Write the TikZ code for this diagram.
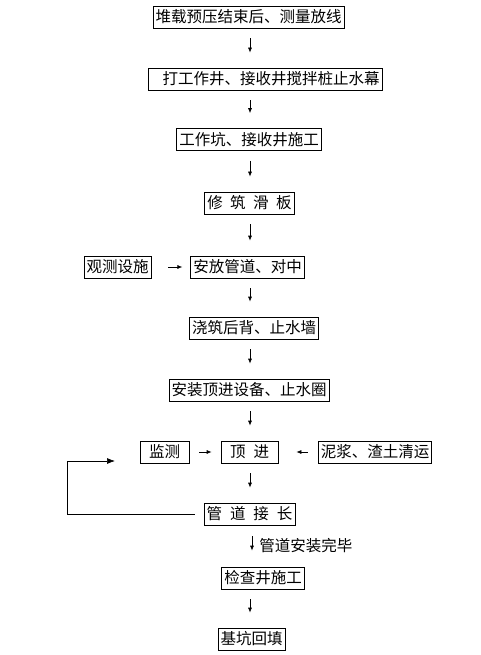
\documentclass[tikz,border=0pt]{standalone}
\usepackage{fontspec}
\setmainfont{Noto Sans CJK SC}
\usetikzlibrary{arrows.meta}
\begin{document}
\begin{tikzpicture}[x=1pt,y=-1pt,
		box/.style={draw,line width=0.7pt,inner xsep=2.5pt,inner ysep=0pt,minimum height=22pt,font=\fontsize{15.5}{18}\selectfont},
		flow/.style={-{Latex[length=5pt,width=4pt]},line width=0.7pt},
		down/.style={flow,shorten <=10pt,shorten >=15pt},
		loopflow/.style={-{Latex[length=8pt,width=6pt]},line width=0.7pt}]
		\useasboundingbox (0,0) rectangle (481,655);
		\coordinate (axis) at (250,0);
		\coordinate (axisb) at (252,0);
		\coordinate (loopin) at (115,461);
		% main chain
		\node[box] (start) at (248.5,17) {堆载预压结束后、测量放线};
		\node[box] (mixpile) at (265,79) {\hspace{12pt}打工作井、接收井搅拌桩止水幕};
		\node[box] (pit) at (249,139.5) {工作坑、接收井施工};
		\node[box] (slab) at (249.5,203) {修\hspace{7.5pt}筑\hspace{7.5pt}滑\hspace{7.5pt}板};
		\node[box] (survey) at (117.5,267) {观测设施};
		\node[box] (pipe) at (247.5,267) {安放管道、对中};
		\node[box] (backwall) at (254,328) {浇筑后背、止水墙};
		\node[box] (jackset) at (249,390) {安装顶进设备、止水圈};
		\node[box,minimum width=49pt] (monitor) at (164.5,452) {监测};
		\node[box,minimum width=57pt] (jack) at (249.5,452) {顶\hspace{8pt}进};
		\node[box] (mud) at (375,452) {泥浆、渣土清运};
		\node[box] (extend) at (249.5,514) {管\hspace{8pt}道\hspace{8pt}接\hspace{8pt}长};
		\node[box] (manhole) at (263,578) {检查井施工};
		\node[box] (backfill) at (251.5,639) {基坑回填};
		% arrows
		\draw[down] (start.south -| axis) -- (mixpile.north -| axis);
		\draw[down] (mixpile.south -| axis) -- (pit.north -| axis);
		\draw[down] (pit.south -| axis) -- (slab.north -| axis);
		\draw[down] (slab.south -| axis) -- (pipe.north -| axis);
		\draw[down] (pipe.south -| axis) -- (backwall.north -| axis);
		\draw[down] (backwall.south -| axis) -- (jackset.north -| axis);
		\draw[down] (jackset.south -| axis) -- (jack.north -| axis);
		\draw[down] (jack.south -| axis) -- (extend.north -| axis);
		\draw[flow,shorten <=11pt,shorten >=16pt] (extend.south -| axisb) -- (manhole.north -| axisb)
			node[midway,right=6pt,inner sep=1pt,font=\fontsize{15.5}{18}\selectfont] (done) {管道安装完毕};
		\draw[down] (manhole.south -| axis) -- (backfill.north -| axis);
		\draw[flow,shorten <=17pt,shorten >=8pt] (survey) -- (pipe);
		\draw[flow,shorten <=10pt,shorten >=9pt] (monitor) -- (jack);
		\draw[flow,shorten <=10pt,shorten >=18pt] (mud) -- (jack);
		\draw[loopflow] ([xshift=-9pt]extend.west) -- ++(-127,0) |- (loopin);
	\end{tikzpicture}
\end{document}
